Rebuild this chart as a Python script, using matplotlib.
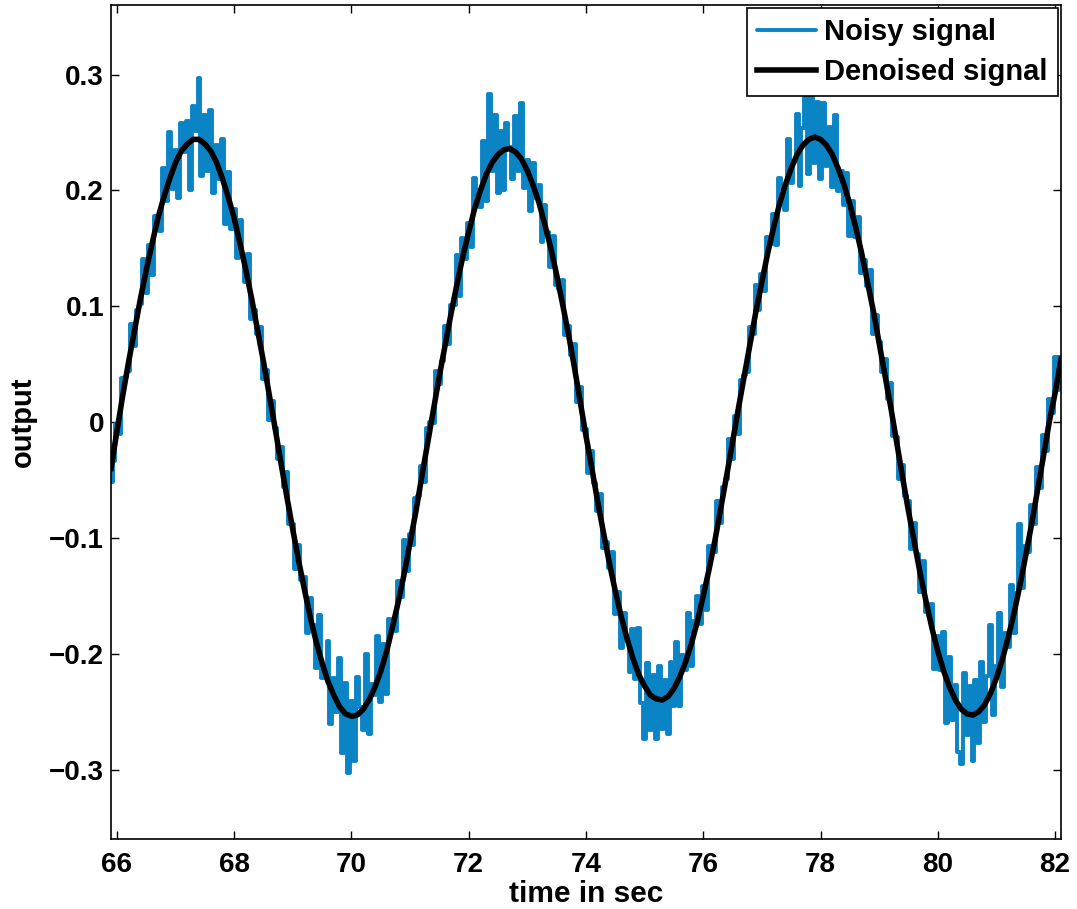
import numpy as np
import matplotlib
matplotlib.use("Agg")
import matplotlib.pyplot as plt

# denoised signal, sampled every 0.1 s from 65.9 to 82.1
t_denoised = np.round(np.linspace(65.9, 82.1, 163), 2)
denoised = [
    -0.040,
    -0.008, 0.023, 0.052, 0.079, 0.106, 0.131, 0.154, 0.176, 0.194, 0.210,
    0.224, 0.234, 0.240, 0.244, 0.244, 0.240, 0.234, 0.224, 0.210, 0.194,
    0.176, 0.154, 0.131, 0.106, 0.079, 0.052, 0.023, -0.006, -0.036, -0.065,
    -0.093, -0.120, -0.145, -0.169, -0.190, -0.208, -0.224, -0.236, -0.246, -0.252,
    -0.254, -0.253, -0.248, -0.240, -0.229, -0.215, -0.198, -0.177, -0.155, -0.131,
    -0.104, -0.077, -0.047, -0.018, 0.011, 0.040, 0.067, 0.094, 0.119, 0.143,
    0.164, 0.184, 0.200, 0.214, 0.224, 0.231, 0.235, 0.236, 0.233, 0.227,
    0.217, 0.204, 0.189, 0.170, 0.150, 0.127, 0.102, 0.076, 0.048, 0.018,
    -0.012, -0.040, -0.069, -0.096, -0.122, -0.146, -0.168, -0.187, -0.204, -0.218,
    -0.228, -0.236, -0.239, -0.240, -0.237, -0.230, -0.220, -0.207, -0.191, -0.172,
    -0.150, -0.127, -0.102, -0.074, -0.046, -0.017, 0.012, 0.040, 0.068, 0.096,
    0.121, 0.146, 0.168, 0.188, 0.205, 0.219, 0.231, 0.239, 0.244, 0.246,
    0.244, 0.239, 0.231, 0.219, 0.205, 0.188, 0.168, 0.146, 0.121, 0.096,
    0.068, 0.040, 0.012, -0.018, -0.048, -0.077, -0.104, -0.131, -0.155, -0.178,
    -0.198, -0.215, -0.229, -0.240, -0.248, -0.252, -0.253, -0.250, -0.244, -0.234,
    -0.221, -0.205, -0.186, -0.165, -0.141, -0.115, -0.088, -0.059, -0.030, 0.000,
    0.025, 0.054,
]

# noisy signal, sampled every 0.05 s from 65.9 to 82.1 (one row per second)
t_noisy = np.round(np.linspace(65.9, 82.1, 325), 2)
noisy = [
    -0.052, -0.034, -0.002, -0.010, 0.038, 0.039, 0.044, 0.085, 0.066, 0.097,
    0.102, 0.141, 0.111, 0.153, 0.127, 0.178, 0.177, 0.165, 0.219, 0.191,
    0.250, 0.201, 0.235, 0.193, 0.258, 0.233, 0.260, 0.200, 0.273, 0.251,
    0.297, 0.212, 0.265, 0.217, 0.269, 0.198, 0.239, 0.210, 0.244, 0.171,
    0.216, 0.167, 0.184, 0.142, 0.174, 0.145, 0.121, 0.145, 0.089, 0.097,
    0.076, 0.082, 0.037, 0.045, 0.002, 0.018, -0.005, -0.032, -0.022, -0.056,
    -0.043, -0.088, -0.088, -0.127, -0.106, -0.136, -0.134, -0.182, -0.152, -0.175,
    -0.212, -0.167, -0.221, -0.216, -0.189, -0.261, -0.221, -0.250, -0.204, -0.286,
    -0.225, -0.303, -0.241, -0.293, -0.220, -0.246, -0.266, -0.200, -0.269, -0.226,
    -0.236, -0.185, -0.242, -0.192, -0.235, -0.170, -0.176, -0.180, -0.137, -0.151,
    -0.102, -0.129, -0.097, -0.106, -0.066, -0.064, -0.038, -0.052, -0.005, 0.000,
    -0.001, 0.044, 0.033, 0.053, 0.083, 0.067, 0.101, 0.101, 0.144, 0.109,
    0.159, 0.141, 0.172, 0.151, 0.211, 0.196, 0.186, 0.243, 0.191, 0.283,
    0.217, 0.265, 0.198, 0.251, 0.200, 0.258, 0.237, 0.210, 0.264, 0.217,
    0.275, 0.202, 0.226, 0.182, 0.224, 0.193, 0.205, 0.155, 0.187, 0.164,
    0.134, 0.161, 0.118, 0.115, 0.123, 0.075, 0.083, 0.058, 0.067, 0.017,
    0.030, -0.007, -0.006, -0.044, -0.025, -0.053, -0.077, -0.062, -0.109, -0.104,
    -0.126, -0.112, -0.166, -0.147, -0.195, -0.165, -0.185, -0.216, -0.179, -0.222,
    -0.178, -0.243, -0.274, -0.208, -0.266, -0.218, -0.274, -0.211, -0.265, -0.223,
    -0.269, -0.207, -0.245, -0.190, -0.245, -0.201, -0.214, -0.165, -0.211, -0.172,
    -0.150, -0.174, -0.142, -0.162, -0.107, -0.111, -0.112, -0.068, -0.087, -0.056,
    -0.049, -0.015, -0.032, 0.005, -0.010, 0.036, 0.041, 0.043, 0.082, 0.076,
    0.118, 0.097, 0.128, 0.113, 0.160, 0.154, 0.180, 0.153, 0.211, 0.201,
    0.183, 0.244, 0.206, 0.225, 0.266, 0.204, 0.254, 0.283, 0.214, 0.283,
    0.224, 0.276, 0.210, 0.275, 0.221, 0.255, 0.203, 0.265, 0.199, 0.217,
    0.187, 0.215, 0.161, 0.191, 0.160, 0.177, 0.129, 0.140, 0.117, 0.131,
    0.076, 0.092, 0.069, 0.043, 0.054, 0.020, 0.034, -0.012, -0.013, -0.049,
    -0.037, -0.064, -0.068, -0.110, -0.087, -0.114, -0.147, -0.120, -0.164, -0.167,
    -0.157, -0.213, -0.185, -0.214, -0.181, -0.260, -0.203, -0.257, -0.227, -0.285,
    -0.295, -0.217, -0.270, -0.228, -0.293, -0.223, -0.277, -0.207, -0.259, -0.219,
    -0.175, -0.253, -0.211, -0.165, -0.229, -0.182, -0.194, -0.141, -0.182, -0.148,
    -0.088, -0.143, -0.107, -0.112, -0.072, -0.088, -0.039, -0.057, -0.011, -0.025,
    0.020, 0.008, 0.056, 0.028, 0.056,
]

x_ticks = [66, 68, 70, 72, 74, 76, 78, 80, 82]
y_ticks = [-0.3, -0.2, -0.1, 0, 0.1, 0.2, 0.3]
y_ticklabels = ["\u22120.3", "\u22120.2", "\u22120.1", "0", "0.1", "0.2", "0.3"]

plt.rcParams["font.family"] = ["Liberation Sans", "DejaVu Sans"]
plt.rcParams["font.weight"] = "bold"

fig = plt.figure(figsize=(10.77, 9.09), dpi=100)
ax = fig.add_axes([0.1031, 0.0770, 0.8820, 0.9175])

ax.plot(t_noisy, noisy, color="#0b84c6", lw=2.8, drawstyle="steps-mid",
        solid_capstyle="round", solid_joinstyle="round", label="Noisy signal")
ax.plot(t_denoised, denoised, color="black", lw=4.0, label="Denoised signal")

ax.set_xlim(65.9, 82.1)
ax.set_ylim(-0.36, 0.36)
ax.set_xticks(x_ticks)
ax.set_xticklabels([str(v) for v in x_ticks])
ax.set_yticks(y_ticks)
ax.set_yticklabels(y_ticklabels)

ax.tick_params(direction="in", length=6, width=1, top=True, right=True,
               labelsize=20)
ax.tick_params(axis="x", pad=9)
ax.tick_params(axis="y", pad=5)
for s in ax.spines.values():
    s.set_linewidth(1.2)

ax.set_xlabel("time in sec", fontsize=21.5, fontweight="bold", labelpad=2)
ax.set_ylabel("output", fontsize=21, fontweight="bold", labelpad=9)

leg = ax.legend(loc="upper right", fontsize=21, fancybox=False, framealpha=1,
                edgecolor="black", borderaxespad=0.1, handlelength=2.0,
                handletextpad=0.3, labelspacing=0.4, borderpad=0.35)
leg.get_frame().set_linewidth(1.2)
for h in leg.get_lines():
    h.set_drawstyle("default")

fig.savefig("out.png", dpi=100)
